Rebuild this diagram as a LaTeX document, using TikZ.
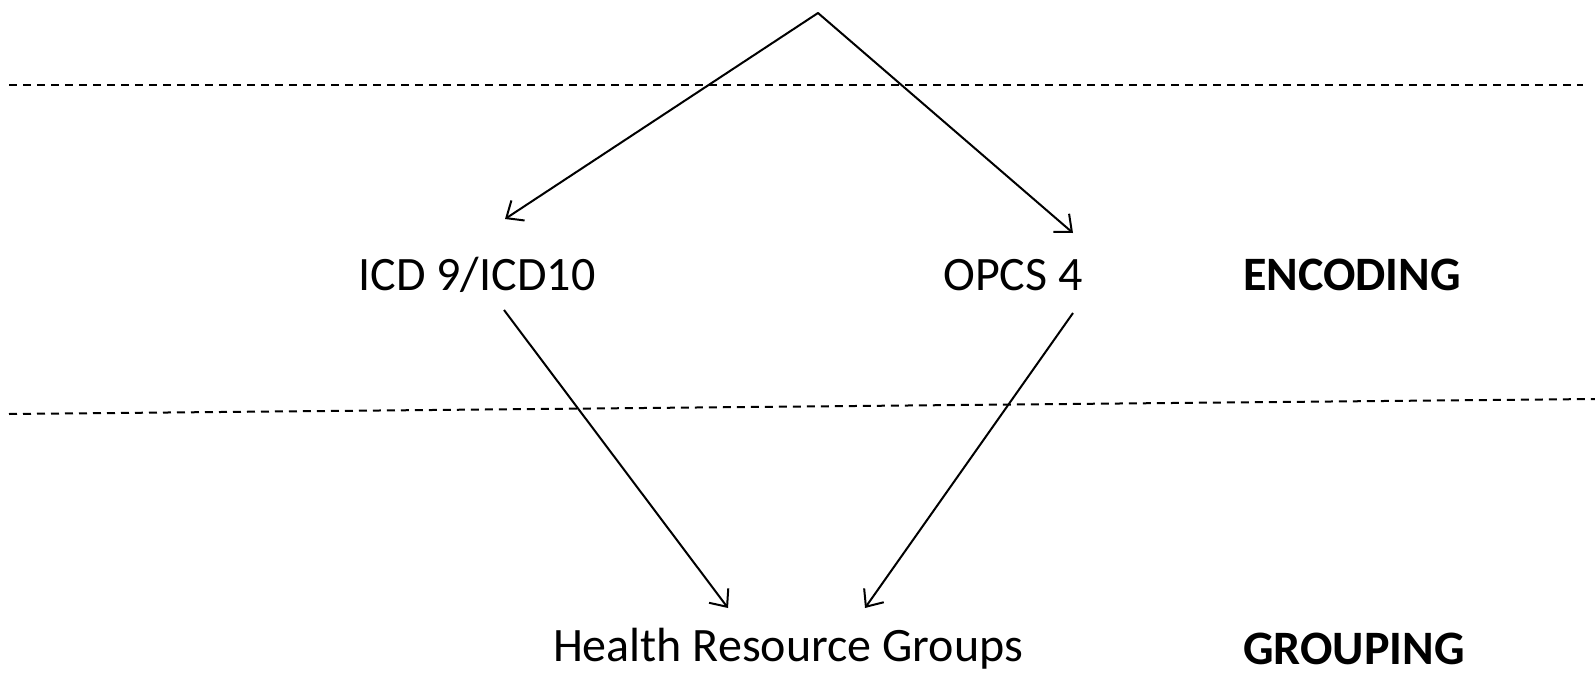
\documentclass[tikz,border=0pt]{standalone}
\usepackage{fontspec}
\setmainfont{Carlito}
\usetikzlibrary{arrows.meta}
\tikzset{
  conn/.style={line width=2bp, -{Straight Barb[length=14bp,width=24bp,line width=2bp]}},
  sep/.style={line width=2bp, dash pattern=on 8bp off 6bp},
  lbl/.style={inner sep=0pt, font=\fontsize{48bp}{58bp}\selectfont},
  bold/.style={lbl, font=\fontsize{48bp}{58bp}\selectfont\bfseries}
}
\begin{document}
\begin{tikzpicture}[x=1bp,y=-1bp]
\useasboundingbox (0,0) rectangle (1595,678);
\draw[sep] (9,85) -- (1583,85);
\draw[sep] (9,414) -- (1595,399);
\node[lbl] (icd) at (477,275) {ICD 9/ICD10};
\node[lbl] (opcs) at (1013,275) {OPCS 4};
\node[bold] (enc) at (1352,275) {ENCODING};
\node[lbl] (hrg) at (788,649) {Health Resource Groups};
\node[bold] (grp) at (1354,649) {GROUPING};
\coordinate (apex) at (818,13);
\coordinate (icdin) at (505,219);
\coordinate (opcsin) at (1073,233);
\coordinate (icdout) at (504,310);
\coordinate (opcsout) at (1073,313);
\coordinate (hrgl) at (728,608);
\coordinate (hrgr) at (865,608);
\draw[conn, line cap=round] (apex) -- (icdin);
\draw[conn] (apex) -- (opcsin);
\draw[conn] (icdout) -- (hrgl);
\draw[conn] (opcsout) -- (hrgr);
\end{tikzpicture}
\end{document}
